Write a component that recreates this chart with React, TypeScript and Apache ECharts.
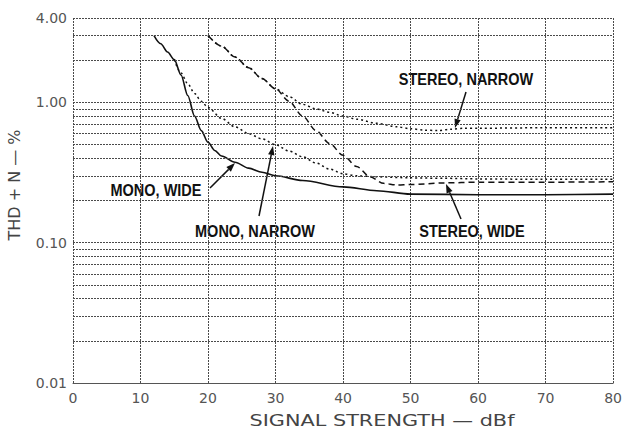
import React, { useEffect, useRef } from "react";
import * as echarts from "echarts";

// ---- data ----
const monoWideX = [12, 13, 14, 15, 16, 17, 18, 19, 20, 21, 22, 24, 26, 28, 30, 34, 40, 45, 50, 60, 70, 80];
const monoWideY = [3.0, 2.62, 2.29, 2.02, 1.57, 1.12, 0.8, 0.63, 0.52, 0.455, 0.415, 0.375, 0.34, 0.318, 0.3, 0.278, 0.25, 0.235, 0.222, 0.22, 0.22, 0.222];

const monoNarrowX = [15, 16, 17, 18, 19, 20, 22, 24, 26, 28, 30, 32, 34, 36, 38, 40, 42, 45, 50, 55, 60, 70, 80];
const monoNarrowY = [2.02, 1.62, 1.36, 1.16, 1.02, 0.92, 0.77, 0.67, 0.6, 0.55, 0.5, 0.45, 0.41, 0.37, 0.335, 0.31, 0.3, 0.295, 0.29, 0.288, 0.285, 0.283, 0.283];

const stereoNarrowX = [20, 22, 24, 26, 28, 30, 32, 34, 36, 38, 40, 42, 45, 48, 50, 52, 54, 56, 58, 60, 70, 80];
const stereoNarrowY = [3.0, 2.52, 2.11, 1.77, 1.48, 1.25, 1.1, 0.97, 0.9, 0.85, 0.8, 0.76, 0.71, 0.67, 0.65, 0.635, 0.63, 0.645, 0.655, 0.655, 0.66, 0.66];

const stereoWideX = [20, 22, 24, 26, 28, 30, 32, 34, 36, 38, 40, 42, 44, 46, 48, 50, 55, 60, 70, 80];
const stereoWideY = [3.0, 2.52, 2.11, 1.77, 1.48, 1.25, 1.02, 0.8, 0.63, 0.51, 0.42, 0.35, 0.295, 0.265, 0.258, 0.26, 0.267, 0.27, 0.27, 0.272];

const xMin = 0;
const xMax = 80;
const xInterval = 10;
const yMin = 0.01;
const yMax = 4;
const minorGridValues = [0.02, 0.03, 0.04, 0.05, 0.06, 0.07, 0.08, 0.09, 0.2, 0.3, 0.4, 0.5, 0.6, 0.7, 0.8, 0.9, 2, 3];

const labelMonoWide = "MONO, WIDE";
const labelMonoNarrow = "MONO, NARROW";
const labelStereoNarrow = "STEREO, NARROW";
const labelStereoWide = "STEREO, WIDE";
const xName = "SIGNAL STRENGTH — dBf";
const yName = "THD + N — %";

const zip = (xs: number[], ys: number[]) => xs.map((x, i) => [x, ys[i]]);

function arrow(x1: number, y1: number, x2: number, y2: number) {
  const dx = x2 - x1;
  const dy = y2 - y1;
  const len = Math.sqrt(dx * dx + dy * dy);
  const ux = dx / len;
  const uy = dy / len;
  const hl = 9;
  const hw = 3.2;
  const bx = x2 - ux * hl;
  const by = y2 - uy * hl;
  return [
    {
      type: "line",
      shape: { x1, y1, x2: bx, y2: by },
      style: { stroke: "#111", lineWidth: 1.5 },
      silent: true,
    },
    {
      type: "polygon",
      shape: {
        points: [
          [x2, y2],
          [bx - uy * hw, by + ux * hw],
          [bx + uy * hw, by - ux * hw],
        ],
      },
      style: { fill: "#111" },
      silent: true,
    },
  ];
}

function label(text: string, x: number, y: number) {
  return {
    type: "text",
    x,
    y,
    scaleY: 1.15,
    style: {
      text,
      fontSize: 14.5,
      fontWeight: "bold",
      fontFamily: "Liberation Sans",
      fill: "#111",
      align: "center",
      verticalAlign: "middle",
    },
    silent: true,
  };
}

const gridLine = { color: "#4a4a4a", type: [2, 1] as any, width: 1 };

export default function App() {
  const ref = useRef<HTMLDivElement>(null);
  useEffect(() => {
    if (!ref.current) return;
    const chart = echarts.init(ref.current, undefined, { renderer: "svg" });
    const curve = (name: string, data: number[][], type: any, width = 1.5) => ({
      name,
      type: "line",
      data,
      showSymbol: false,
      symbol: "none",
      smooth: 0.3,
      smoothMonotone: "x",
      lineStyle: { color: "#111", width, type },
      z: 3,
    });
    chart.setOption({
      animation: false,
      backgroundColor: "#fff",
      grid: { left: 73, right: 8, top: 18, bottom: 47, containLabel: false },
      xAxis: {
        type: "value",
        min: xMin,
        max: xMax,
        interval: xInterval,
        axisLine: { show: true, lineStyle: { color: "#555", width: 1 } },
        axisTick: { show: false },
        axisLabel: {
          margin: 8,
          color: "#555",
          fontSize: 14,
          fontFamily: "DejaVu Sans",
        },
        splitLine: { show: true, lineStyle: gridLine },
      },
      yAxis: {
        type: "log",
        logBase: 10,
        min: yMin,
        max: yMax,
        axisLine: { show: false },
        axisTick: { show: false },
        axisLabel: {
          margin: 6,
          color: "#555",
          fontSize: 14,
          fontFamily: "DejaVu Sans",
          formatter: (v: number) => v.toFixed(2),
        },
        splitLine: { show: true, lineStyle: gridLine },
      },
      series: [
        {
          name: "grid",
          type: "line",
          data: [],
          silent: true,
          markLine: {
            silent: true,
            symbol: "none",
            label: { show: false },
            lineStyle: gridLine,
            data: minorGridValues.map((v) => ({ yAxis: v })),
          },
          z: 1,
        },
        curve(labelMonoWide, zip(monoWideX, monoWideY), "solid", 1.6),
        curve(labelMonoNarrow, zip(monoNarrowX, monoNarrowY), [2, 3]),
        curve(labelStereoNarrow, zip(stereoNarrowX, stereoNarrowY), [2, 3]),
        curve(labelStereoWide, zip(stereoWideX, stereoWideY), [6, 4]),
      ],
      graphic: [
        label(labelMonoWide, 156, 190),
        label(labelMonoNarrow, 255, 231),
        label(labelStereoNarrow, 466, 79),
        label(labelStereoWide, 472, 231),
        ...arrow(210, 188, 235, 163),
        ...arrow(259, 216, 273, 146),
        ...arrow(466, 92, 455, 128),
        ...arrow(461, 219, 446, 184),
        {
          type: "text",
          x: 382,
          y: 420,
          scaleX: 1.3,
          style: {
            text: xName,
            fontSize: 16,
            fontFamily: "DejaVu Sans",
            fill: "#444",
            align: "center",
            verticalAlign: "middle",
          },
          silent: true,
        },
        {
          type: "text",
          x: 14,
          y: 185,
          rotation: Math.PI / 2,
          style: {
            text: yName,
            fontSize: 16,
            fontFamily: "DejaVu Sans",
            fill: "#444",
            align: "center",
            verticalAlign: "middle",
          },
          silent: true,
        },
      ],
    });
    return () => chart.dispose();
  }, []);
  return (
    <div
      ref={ref}
      style={{ position: "fixed", left: 0, top: 0, width: 625, height: 430, background: "#fff" }}
    />
  );
}
